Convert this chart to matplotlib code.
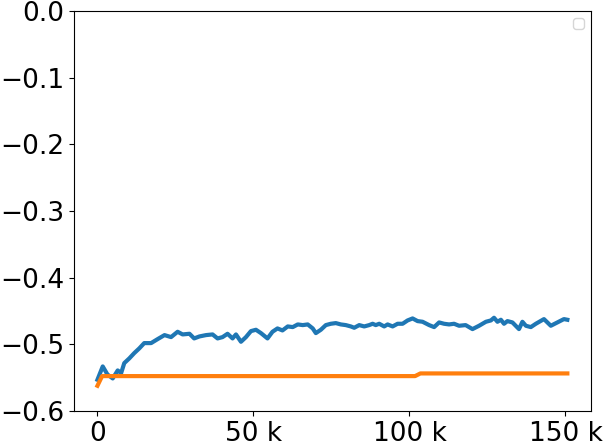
import matplotlib
matplotlib.use("Agg")
import matplotlib.pyplot as plt
from matplotlib.ticker import EngFormatter
import numpy as np

blue_x_k = [0, 1.7, 3.2, 4.9, 6.5, 7.6, 8.6, 10.2, 11.8, 13.4, 15, 17.2, 19.3, 21.5, 23.6,
            25.7, 27.3, 29.5, 31, 32.7, 34.8, 36.9, 38.5, 40.1, 41.7, 43.3, 44.4, 46, 47.6,
            49.2, 50.8, 52.4, 54.5, 56.1, 57.7, 59.3, 61, 62.6, 64.2, 65.8, 67.4, 69, 70,
            71.6, 73.2, 74.8, 76.4, 78, 79.6, 81.2, 82.3, 83.9, 85.5, 87.1, 88.2, 89.2, 90.3,
            91.9, 93, 94.6, 96.2, 97.8, 99.4, 101, 102.6, 104.2, 106.3, 107.9, 109.5, 111.1,
            112.7, 114.3, 115.9, 118, 120.2, 122.3, 124.5, 126.1, 127.1, 128.2, 129.3, 130.3,
            131.4, 133, 135.1, 136.2, 137.3, 138.9, 140.5, 143.1, 145.3, 147.4, 149.5, 150.6]
blue_y = [-0.553, -0.533, -0.545, -0.551, -0.539, -0.543, -0.528, -0.521, -0.513, -0.506,
          -0.498, -0.498, -0.492, -0.486, -0.489, -0.481, -0.485, -0.484, -0.491, -0.488,
          -0.486, -0.485, -0.491, -0.489, -0.484, -0.491, -0.485, -0.496, -0.489, -0.480,
          -0.478, -0.483, -0.491, -0.481, -0.476, -0.479, -0.473, -0.474, -0.470, -0.471,
          -0.470, -0.476, -0.483, -0.478, -0.471, -0.469, -0.468, -0.470, -0.471, -0.473,
          -0.475, -0.471, -0.473, -0.471, -0.469, -0.471, -0.469, -0.473, -0.470, -0.473,
          -0.469, -0.469, -0.464, -0.461, -0.465, -0.466, -0.471, -0.474, -0.467, -0.469,
          -0.470, -0.469, -0.472, -0.471, -0.477, -0.472, -0.466, -0.464, -0.460, -0.466,
          -0.463, -0.469, -0.465, -0.467, -0.477, -0.466, -0.472, -0.474, -0.469, -0.462,
          -0.472, -0.467, -0.462, -0.463]

orange_x_k = [0, 1.5, 101.8, 103.5, 150.6]
orange_y = [-0.562, -0.5475, -0.5475, -0.5435, -0.5435]

fig = plt.figure(figsize=(6.06, 4.43), dpi=100)
ax = fig.add_axes([0.122, 0.072, 0.853, 0.903])
ax.plot(np.array(blue_x_k) * 1000, blue_y, color="#1f77b4", lw=3)
ax.plot(np.array(orange_x_k) * 1000, orange_y, color="#ff7f0e", lw=3)
ax.set_ylim(-0.6, 0.0)
ax.xaxis.set_major_formatter(EngFormatter())
ax.set_xticks([0, 50000, 100000, 150000])
ax.tick_params(labelsize=19)
ax.legend()
fig.savefig("out.png", dpi=100)
